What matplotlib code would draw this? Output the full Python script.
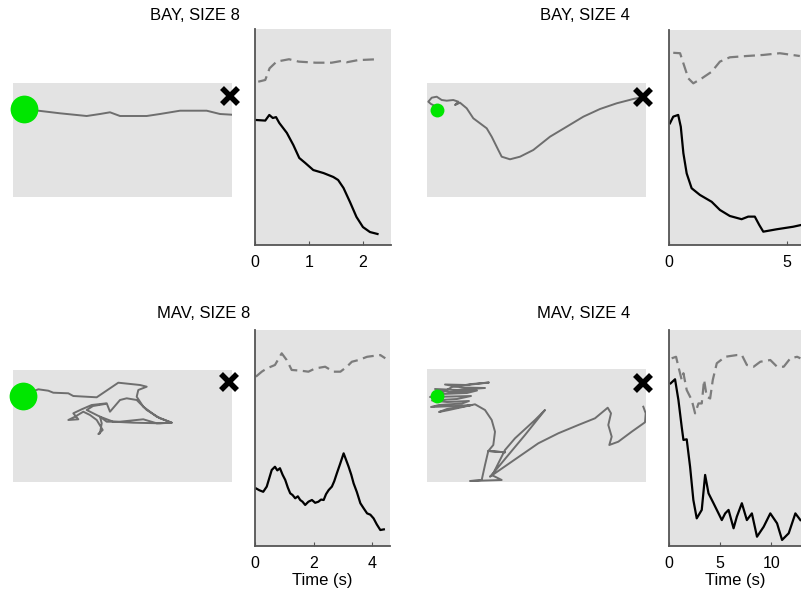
import numpy
import matplotlib
matplotlib.use("Agg")
from matplotlib import pyplot

# Data
# Arena paths in arena units: x to the right, y down from the top-left corner.

titles = ["BAY, SIZE 8", "BAY, SIZE 4", "MAV, SIZE 8", "MAV, SIZE 4"]

bay8_path_x = [11, 25.3, 47, 73.7, 87, 97, 107, 133.7, 147, 167, 193.7, 207, 218.7]
bay8_path_y = [26, 27.7, 30.3, 33, 31, 29.3, 33, 33, 31, 27.7, 27.7, 31, 31.7]

bay4_path_x = [10, 4, 1.3, 4.7, 9.7, 14.7, 19.7, 26.3, 31.3, 28, 33, 39.7, 46.3,
               59.7, 64.7, 71.3, 74.7, 83, 93, 106.3, 123, 139.7, 156.3, 173,
               189.7, 206.3, 218]
bay4_path_y = [24, 21, 18.7, 14.7, 13.7, 17, 17.7, 17, 18.7, 22, 19.7, 25.3, 35.3,
               45.3, 53.7, 67, 73.7, 76.3, 73.7, 67, 53.7, 43.7, 33.7, 26,
               20.3, 16, 13.7]

mav8_path_x = [10.3, 25.3, 35.3, 40.3, 55.3, 60.3, 83.7, 97, 105.3, 127, 133.7,
               125.3, 123.7, 130.3, 143.7, 158.7, 143.7, 130.3, 107, 93.7, 87,
               88.7, 87, 85.3, 89.7, 83.7, 77, 70.3, 62, 55.3, 65.3, 60.3, 68.7,
               78.7, 93.7, 97, 107, 113.7, 123.7, 133.7, 147, 158.7, 147, 120.3,
               100.3, 87, 73.7, 80, 92]
mav8_path_y = [25, 19.3, 20.7, 22.7, 23.3, 26, 27.3, 18.3, 12.7, 15, 16.7,
               20, 26.7, 36.7, 46.7, 52.7, 53.3, 49.3, 51.7, 51.7, 46.7,
               53.3, 63.3, 64, 60, 50, 45, 41.7, 46.7, 50, 49.3, 43.3, 39.3,
               35, 33.3, 41.7, 30, 28.3, 30, 40, 48.3, 52.7, 53.3, 52.7,
               51.7, 46.7, 40, 36, 34]

mav4_path_x = [9.7, 25, 45, 62, 40, 18, 35, 58, 30, 8, 22, 50, 40, 15, 3, 25,
               44, 30, 5, 20, 42, 35, 12, 4, 28, 45, 20, 12, 22, 48,
               58, 64.7, 68, 66.3, 61.3, 78, 61.3, 58, 54.7, 43, 74.7, 64.7,
               81.3, 98, 118, 108, 88, 78, 66.3, 63, 84.7, 111.3, 131.3, 151.3,
               168, 178, 180.7, 184, 181.3, 184.7, 182.3, 191.3, 204.7, 218,
               218.7, 216.3]
mav4_path_y = [26.7, 18, 15, 13.5, 16, 15.5, 18.5, 19, 21, 20, 23, 21.5, 24, 25,
               28, 27.5, 27, 30, 31.5, 33, 32, 34.5, 36, 38, 37, 36, 40, 43,
               41, 35.3,
               41, 51, 62.7, 76, 82, 83.3, 82, 96, 111, 112, 111, 106,
               86, 66, 41, 51, 69.3, 81, 104.3, 107.7, 92.7, 74.3, 64.3, 56,
               49.3, 41, 38.7, 44.3, 56, 67.7, 76, 72.7, 62.7, 53.3,
               44.3, 37.7]

# start (green) and goal (X) positions, arena units
start_x = [11, 10, 10.3, 9.7]
start_y = [26, 27, 25.7, 26.7]
start_size = [20, 10, 20, 10]
goal_x = [217, 216, 216.3, 216]
goal_y = [13, 14, 11.7, 14]

# Time series, normalised 0..1 (no y scale shown)
bay8_t = [0.0, 0.19, 0.265, 0.33, 0.39, 0.45, 0.59, 0.71, 0.82, 0.93, 1.08,
          1.27, 1.45, 1.54, 1.64, 1.76, 1.88, 2.0, 2.13, 2.27]
bay8_solid = [0.579, 0.576, 0.602, 0.588, 0.592, 0.565, 0.519, 0.463, 0.403,
              0.380, 0.347, 0.333, 0.315, 0.301, 0.264, 0.199, 0.130, 0.083,
              0.060, 0.051]
bay8_td = [0.06, 0.19, 0.27, 0.4, 0.63, 0.81, 1.12, 1.42, 1.6, 1.7, 1.91, 2.27]
bay8_dash = [0.756, 0.764, 0.818, 0.849, 0.860, 0.849, 0.844, 0.844, 0.852,
             0.846, 0.856, 0.860]

bay4_t = [0.04, 0.18, 0.39, 0.5, 0.61, 0.75, 0.96, 1.31, 1.81, 2.16, 2.58,
          3.08, 3.36, 3.64, 3.83, 4.0, 4.56, 5.27, 5.6]
bay4_solid = [0.566, 0.597, 0.605, 0.550, 0.427, 0.333, 0.264, 0.233, 0.201,
              0.163, 0.135, 0.120, 0.132, 0.132, 0.093, 0.062, 0.073, 0.085,
              0.093]
bay4_td = [0.18, 0.47, 0.61, 0.82, 1.03, 1.39, 1.81, 2.16, 2.58, 3.29, 4.0,
           4.7, 5.55]
bay4_dash = [0.894, 0.892, 0.845, 0.775, 0.752, 0.775, 0.806, 0.853, 0.873,
             0.879, 0.884, 0.892, 0.879]

mav8_t = [0.03, 0.15, 0.28, 0.40, 0.57, 0.68, 0.76, 0.85, 0.94, 1.03, 1.12,
          1.20, 1.28, 1.37, 1.46, 1.54, 1.62, 1.71, 1.82, 1.94, 2.05, 2.16,
          2.25, 2.34, 2.42, 2.51, 2.62, 2.70, 2.79, 2.90, 3.02, 3.10, 3.19,
          3.28, 3.36, 3.47, 3.59, 3.70, 3.82, 3.93, 4.04, 4.15, 4.27, 4.39]
mav8_solid = [0.267, 0.258, 0.251, 0.275, 0.352, 0.367, 0.350, 0.360, 0.330,
              0.306, 0.270, 0.244, 0.236, 0.221, 0.230, 0.213, 0.205, 0.190,
              0.205, 0.213, 0.200, 0.205, 0.215, 0.213, 0.240, 0.259, 0.275,
              0.300, 0.337, 0.380, 0.429, 0.400, 0.367, 0.330, 0.290, 0.250,
              0.198, 0.175, 0.151, 0.145, 0.128, 0.100, 0.074, 0.077]
mav8_td = [0.03, 0.23, 0.40, 0.68, 0.91, 1.08, 1.25, 1.54, 1.82, 2.05, 2.39,
           2.68, 2.91, 3.13, 3.30, 3.53, 3.82, 4.04, 4.27, 4.44]
mav8_dash = [0.784, 0.807, 0.822, 0.838, 0.892, 0.861, 0.815, 0.812, 0.807,
             0.822, 0.830, 0.807, 0.807, 0.830, 0.853, 0.861, 0.876, 0.880,
             0.884, 0.869]

mav4_t = [0.16, 0.59, 0.92, 1.24, 1.41, 1.73, 2.06, 2.38, 2.71, 3.2, 3.53,
          3.86, 4.35, 4.84, 5.16, 5.49, 5.82, 6.31, 6.63, 7.12, 7.61, 8.1,
          8.6, 9.25, 9.9, 10.56, 11.05, 11.7, 12.35, 12.84]
mav4_solid = [0.753, 0.772, 0.676, 0.552, 0.491, 0.494, 0.367, 0.213, 0.128,
              0.167, 0.329, 0.244, 0.198, 0.151, 0.120, 0.151, 0.167, 0.082,
              0.136, 0.198, 0.120, 0.151, 0.043, 0.089, 0.151, 0.105, 0.028,
              0.059, 0.151, 0.120]
mav4_td = [0.26, 0.69, 0.92, 1.24, 1.41, 1.73, 2.22, 2.55, 2.88, 3.2, 3.43,
           3.69, 4.02, 4.28, 4.67, 5.49, 6.63, 7.12, 7.61, 8.27, 8.92, 9.9,
           10.56, 11.21, 11.86, 12.52, 12.84]
mav4_dash = [0.869, 0.876, 0.830, 0.769, 0.800, 0.722, 0.676, 0.614, 0.660,
             0.660, 0.769, 0.691, 0.683, 0.769, 0.846, 0.876, 0.884, 0.884,
             0.838, 0.830, 0.853, 0.861, 0.830, 0.830, 0.869, 0.876, 0.869]

time_xlim = [2.52, 5.6, 4.6, 12.9]
time_ticks = [[0, 1, 2], [0, 5], [0, 2, 4], [0, 5, 10]]

# Layout in pixels of the 801x590 figure: (left, top, width, height)
W, H = 801, 590
arena_box = [(13, 83, 219, 114), (427, 83, 219, 114),
             (13, 370, 219, 112), (427, 369, 219, 113)]
time_box = [(255, 29, 136, 216), (669, 30, 132, 215),
            (255, 330, 135, 216), (669, 330, 132, 216)]
title_xy = [(195, 15), (585, 15), (204, 313), (584, 313)]

paths = [(bay8_path_x, bay8_path_y), (bay4_path_x, bay4_path_y),
         (mav8_path_x, mav8_path_y), (mav4_path_x, mav4_path_y)]
series = [(bay8_t, bay8_solid, bay8_td, bay8_dash),
          (bay4_t, bay4_solid, bay4_td, bay4_dash),
          (mav8_t, mav8_solid, mav8_td, mav8_dash),
          (mav4_t, mav4_solid, mav4_td, mav4_dash)]

bg = "#e3e3e3"
path_color = "#6e6e6e"
dash_color = "#7c7c7c"

pyplot.rcParams["font.family"] = ["Liberation Sans", "DejaVu Sans"]


def box(b):
    left, top, w, h = b
    return [left / W, 1 - (top + h) / H, w / W, h / H]


fig = pyplot.figure(figsize=(W / 100, H / 100), dpi=100)

for i in range(4):
    # arena
    ax = fig.add_axes(box(arena_box[i]))
    ax.set_facecolor(bg)
    ax.set_xlim(0, arena_box[i][2])
    ax.set_ylim(arena_box[i][3], 0)
    for s in ax.spines.values():
        s.set_visible(False)
    ax.set_xticks([])
    ax.set_yticks([])
    px, py = paths[i]
    ax.plot(px, py, color=path_color, lw=1.4)
    ax.plot(start_x[i], start_y[i], "o", color="#00e600", ms=start_size[i],
            mec="none", clip_on=False, zorder=5)
    ax.plot(goal_x[i], goal_y[i], "x", color="k", ms=12, mew=4,
            clip_on=False, zorder=5)

    # time course
    ax = fig.add_axes(box(time_box[i]))
    ax.set_facecolor(bg)
    t, solid, td, dash = series[i]
    ax.plot(td, dash, color=dash_color, lw=1.6, dashes=(5, 2.5))
    ax.plot(t, solid, color="k", lw=1.6)
    ax.set_xlim(0, time_xlim[i])
    ax.set_ylim(0, 1)
    ax.spines["top"].set_visible(False)
    ax.spines["right"].set_visible(False)
    ax.spines["left"].set_color("#555555")
    ax.spines["bottom"].set_color("#555555")
    ax.spines["left"].set_linewidth(1.3)
    ax.spines["bottom"].set_linewidth(1.3)
    ax.set_yticks([])
    ax.set_xticks(time_ticks[i])
    ax.tick_params(axis="x", direction="in", length=3, color="#555555",
                   labelsize=11.5, pad=7)
    if i >= 2:
        ax.set_xlabel("Time (s)", fontsize=12, labelpad=2)

    fig.text(title_xy[i][0] / W, 1 - title_xy[i][1] / H, titles[i],
             ha="center", va="center", fontsize=12)

fig.savefig("out.png", dpi=100)
